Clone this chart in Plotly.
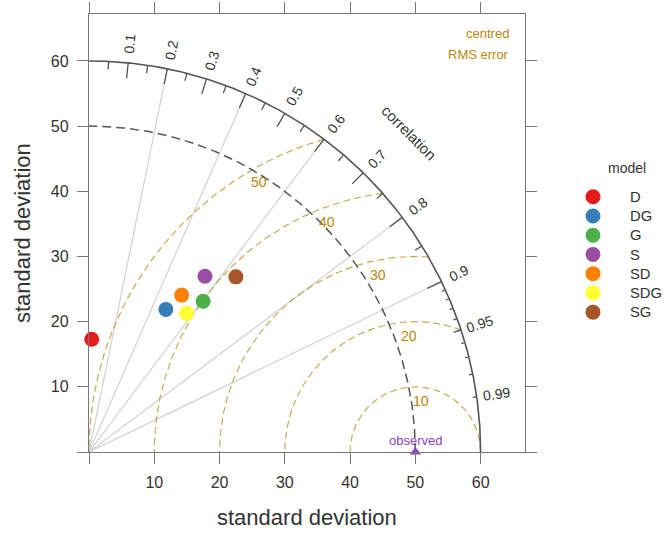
import numpy as np
import plotly.graph_objects as go

# ---- data ----
models = ["D", "DG", "G", "S", "SD", "SDG", "SG"]
model_sd = [17.3, 24.85, 29.0, 32.3, 27.95, 26.0, 35.05]
model_cor = [0.024, 0.474, 0.603, 0.550, 0.508, 0.575, 0.642]
model_colors = ["#E41A1C", "#377EB8", "#4DAF4A", "#984EA3", "#FF7F00", "#FFFF33", "#A65628"]

obs_sd = 50.0
sd_max = 60.0
sd_ticks = [0, 10, 20, 30, 40, 50, 60]
sd_ticktext = ["", "10", "20", "30", "40", "50", "60"]
rms_levels = [10, 20, 30, 40, 50]
cor_rays = [0.2, 0.4, 0.6, 0.8, 0.9]
cor_labels = [0.1, 0.2, 0.3, 0.4, 0.5, 0.6, 0.7, 0.8, 0.9, 0.95, 0.99]

FONT = "Liberation Sans, Arial, sans-serif"
GOLD = "#B8860B"
ARC_GREY = "#555555"
OBS_COL = "#9040D0"
TXT = "#333333"

# plot area in pixels (left, top, right, bottom)
PL, PT, PR, PB = 89, 14, 525, 452
W, H = 664, 536


def px_to_paper(px, py):
    return (px - PL) / (PR - PL), (PB - py) / (PB - PT)


fig = go.Figure()


def add_lines(xs, ys, color, width, dash="solid", opacity=1.0):
    fig.add_trace(go.Scatter(x=xs, y=ys, mode="lines", showlegend=False,
                             hoverinfo="skip", opacity=opacity,
                             line=dict(color=color, width=width, dash=dash)))


# radial correlation lines
rx, ry = [], []
for c in cor_rays:
    a = np.arccos(c)
    rx += [0, sd_max * np.cos(a), None]
    ry += [0, sd_max * np.sin(a), None]
add_lines(rx, ry, "#d2d2d2", 1.2)

# centred RMS error arcs around the observed point, clipped to the outer arc
for r in rms_levels:
    start = np.arccos(np.clip((sd_max**2 - obs_sd**2 - r**2) / (2 * obs_sd * r), -1, 1))
    t = np.linspace(start, np.pi, 200)
    add_lines(obs_sd + r * np.cos(t), r * np.sin(t), GOLD, 1.2, dash="7px,4px", opacity=0.7)

# observed standard deviation arc
t = np.linspace(0, np.pi / 2, 300)
add_lines(obs_sd * np.cos(t), obs_sd * np.sin(t), ARC_GREY, 1.5, dash="9px,5px")

# outer arc
add_lines(sd_max * np.cos(t), sd_max * np.sin(t), ARC_GREY, 1.6)

# correlation tick marks on the outer arc
tx, ty = [], []
for cset, frac in ((np.arange(0.1, 0.95, 0.1), 0.96),
                   (np.arange(0.05, 1.0, 0.1), 0.98),
                   (np.arange(0.91, 0.995, 0.01), 0.99)):
    for c in cset:
        a = np.arccos(c)
        tx += [sd_max * np.cos(a), frac * sd_max * np.cos(a), None]
        ty += [sd_max * np.sin(a), frac * sd_max * np.sin(a), None]
add_lines(tx, ty, ARC_GREY, 1.3)

# model points
for name, s, c, col in zip(models, model_sd, model_cor, model_colors):
    fig.add_trace(go.Scatter(
        x=[s * c], y=[s * np.sqrt(1 - c**2)], mode="markers", name=name,
        cliponaxis=False, showlegend=False,
        marker=dict(color=col, size=15, line=dict(width=0)),
    ))

# observed point
fig.add_trace(go.Scatter(x=[obs_sd], y=[0], mode="markers", showlegend=False,
                         cliponaxis=False, hoverinfo="skip",
                         marker=dict(symbol="triangle-up", size=10, color=OBS_COL)))

ann = []
shapes = []


def paper_text(px, py, text, size, color=TXT, xanchor="center", **kw):
    xp, yp = px_to_paper(px, py)
    ann.append(dict(xref="paper", yref="paper", x=xp, y=yp, text=text,
                    xanchor=xanchor, yanchor="middle", showarrow=False,
                    font=dict(family=FONT, size=size, color=color), **kw))


# correlation labels
for c in cor_labels:
    a = np.arccos(c)
    ann.append(dict(x=1.05 * sd_max * np.cos(a), y=1.05 * sd_max * np.sin(a),
                    text=f"{c:g}", showarrow=False, textangle=-np.degrees(a),
                    xanchor="center", yanchor="middle",
                    font=dict(family=FONT, size=14, color=TXT)))
ann.append(dict(x=69.3 * np.cos(np.pi / 4), y=69.3 * np.sin(np.pi / 4), text="correlation",
                showarrow=False, textangle=45, xanchor="center", yanchor="middle",
                font=dict(family=FONT, size=15, color=TXT)))

# RMS labels
for r in rms_levels:
    th = np.radians(75 + 0.9 * r)
    ann.append(dict(x=obs_sd + (r - 2.2) * np.cos(th), y=(r - 2.2) * np.sin(th),
                    text=str(r), showarrow=False, xanchor="center", yanchor="middle",
                    font=dict(family=FONT, size=14, color=GOLD)))

ann.append(dict(x=obs_sd, y=0, yshift=12, text="observed", showarrow=False,
                xanchor="center", yanchor="middle",
                font=dict(family=FONT, size=13, color=OBS_COL)))

paper_text(511, 33, "centred", 13, GOLD, xanchor="right")
paper_text(511, 54, "RMS error", 13, GOLD, xanchor="right")

# axis titles
paper_text((PL + PR) / 2, 517, "standard deviation", 22)
paper_text(22, (PT + PB) / 2, "standard deviation", 22, textangle=-90)

# legend: title, symbols and names
ROW0, ROW_STEP = 196.7, 19.24
paper_text(627, 168, "model", 14)
for i, col in enumerate(model_colors):
    mx, my = px_to_paper(593, ROW0 + ROW_STEP * i)
    shapes.append(dict(type="circle", xref="paper", yref="paper",
                       xsizemode="pixel", ysizemode="pixel", xanchor=mx, yanchor=my,
                       x0=-7.5, x1=7.5, y0=-7.5, y1=7.5,
                       fillcolor=col, line=dict(width=0)))
lx, ly = px_to_paper(628, ROW0 - ROW_STEP / 2)
ann.append(dict(xref="paper", yref="paper", x=lx, y=ly, xanchor="left", yanchor="top",
                align="left", text="<br>".join(models), showarrow=False,
                font=dict(family=FONT, size=ROW_STEP / 1.3, color=TXT)))

axis_common = dict(
    tickvals=sd_ticks, ticktext=sd_ticktext, ticks="outside", ticklen=11,
    tickcolor="#777777", tickwidth=1.3, showline=True, linecolor="#777777",
    linewidth=1.3, mirror="ticks", showgrid=False, zeroline=False,
    tickfont=dict(family=FONT, size=16, color=TXT), ticklabelstandoff=5,
)

fig.update_layout(
    width=W, height=H,
    margin=dict(l=PL, r=W - PR, t=PT, b=H - PB, autoexpand=False),
    paper_bgcolor="white", plot_bgcolor="white",
    showlegend=False,
    xaxis=dict(range=[0, 66.8], **axis_common),
    yaxis=dict(range=[0, 67.2], **axis_common),
    annotations=ann,
    shapes=shapes,
)

fig.write_html("out.html")
